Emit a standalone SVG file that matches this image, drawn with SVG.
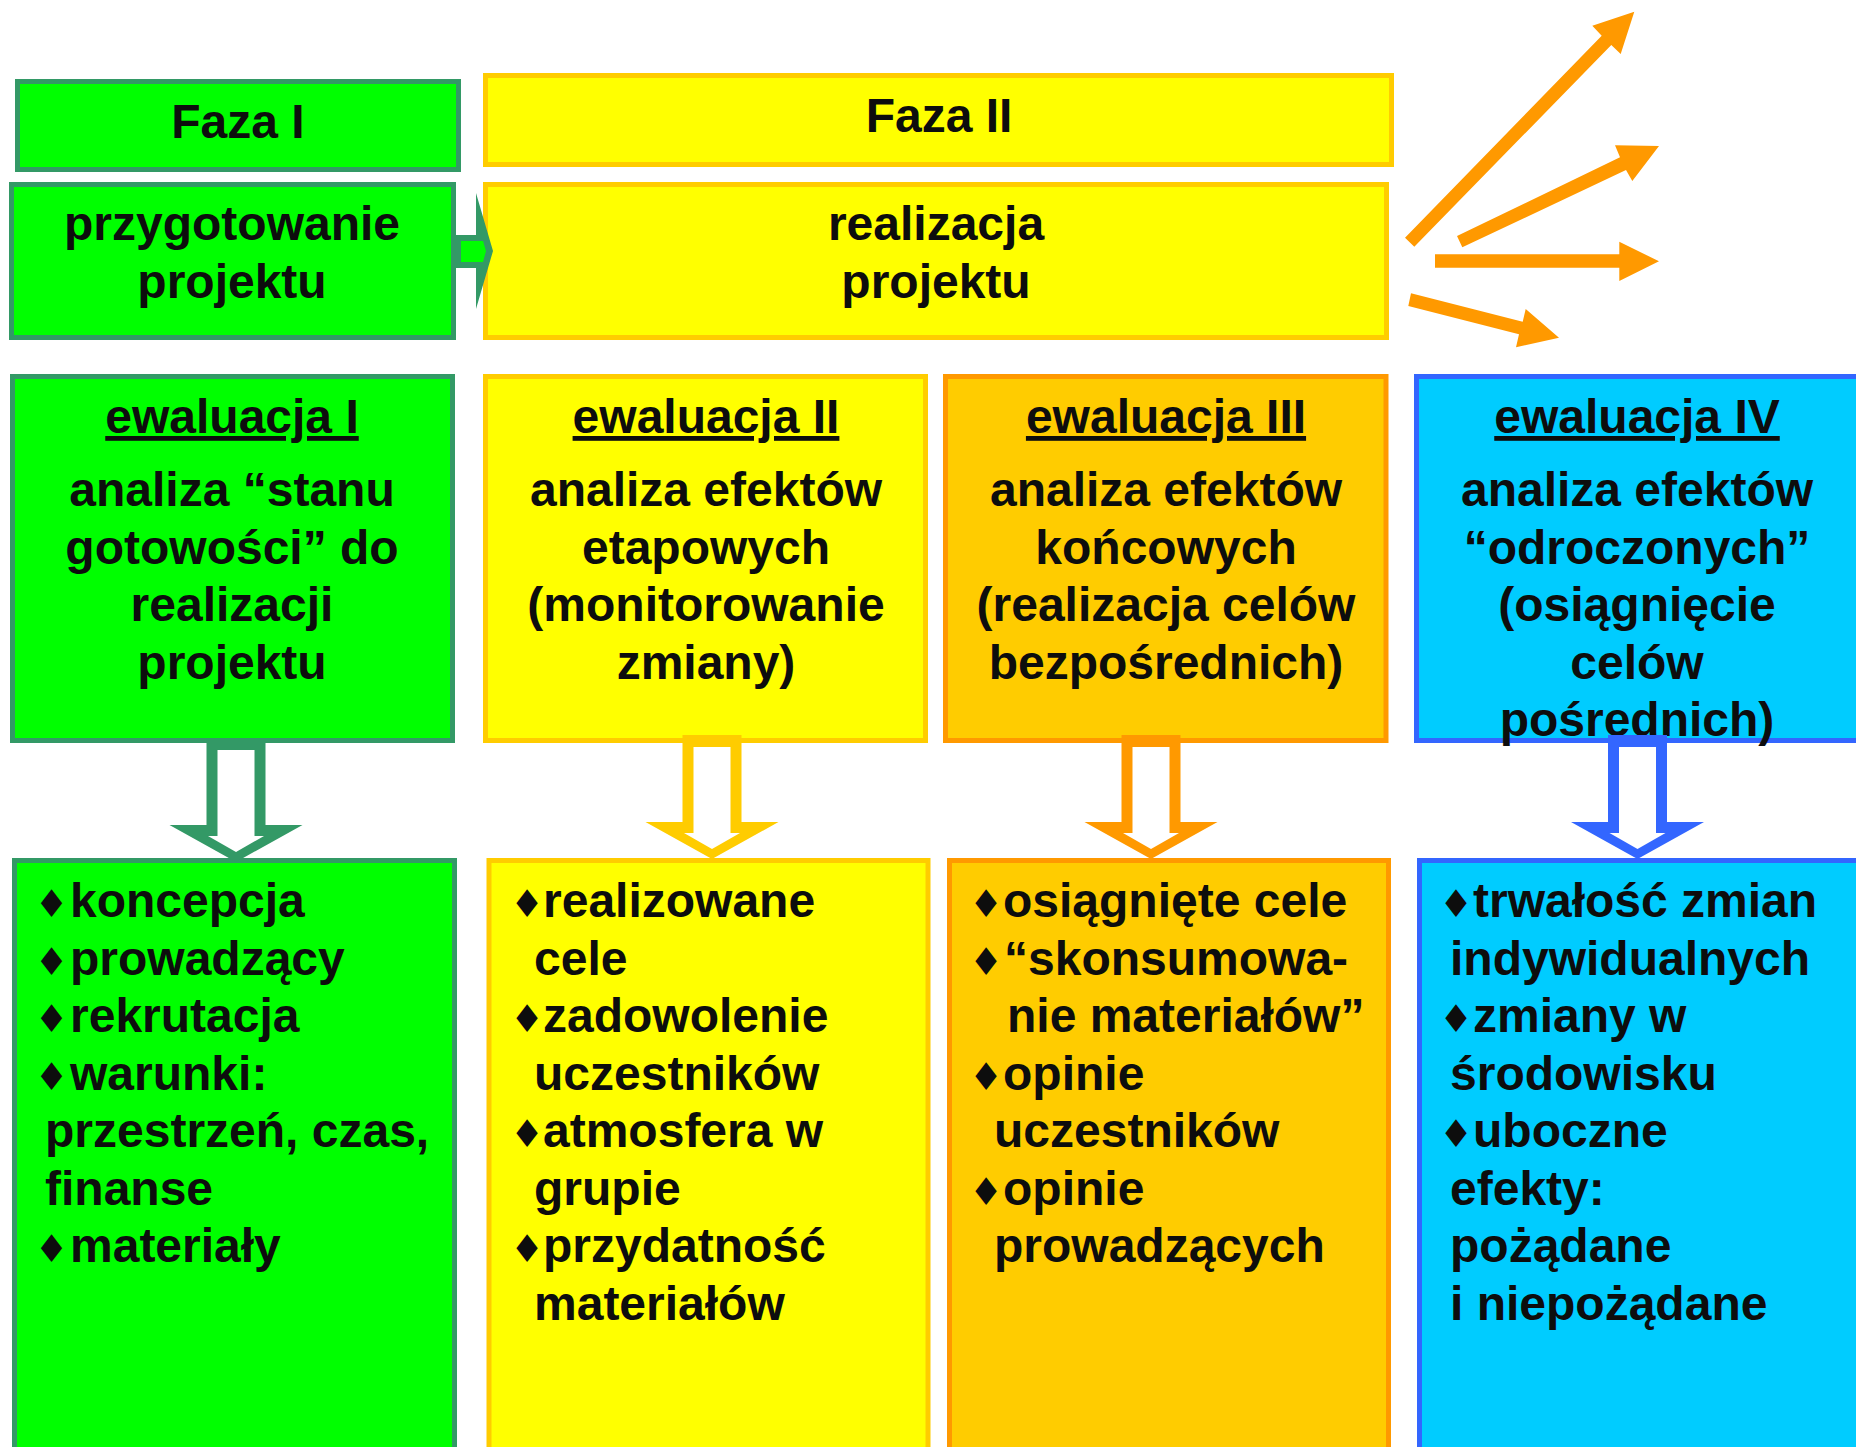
<svg xmlns="http://www.w3.org/2000/svg" xmlns:xlink="http://www.w3.org/1999/xlink" width="1856" height="1447" viewBox="0 0 1856 1447">
<style>
text{font-family:"Liberation Sans",Arial,sans-serif;font-weight:bold;font-size:48px;fill:#0d0d0d}
.c{text-anchor:middle}
.u{text-decoration:underline}
.b{font-family:"DejaVu Sans",sans-serif;font-size:38px;text-anchor:middle}
.g{fill:#00ff00;stroke:#339966;stroke-width:5}
.y{fill:#ffff00;stroke:#ffcc00;stroke-width:5}
.o{fill:#ffcc00;stroke:#ff9900;stroke-width:5}
.bl{fill:#00ccff;stroke:#3366ff;stroke-width:5}
.oa{fill:#ff9900}
</style>
<defs>
<g id="darrow">
<polygon fill="currentColor" points="-29.5,0 29.5,0 29.5,87 66.5,87 0,124 -66.5,87 -29.5,87"/>
<polygon fill="#ffffff" points="-18.5,12 18.5,12 18.5,98 28,98 0,114 -28,98 -18.5,98"/>
</g>
</defs>
<rect width="1856" height="1447" fill="#ffffff"/>

<g id="faza1">
<rect class="g" x="17.5" y="81.5" width="441" height="88"/>
<text class="c" x="238" y="138">Faza I</text>
</g>
<g id="przygotowanie">
<rect class="g" x="11.5" y="184.5" width="442" height="153"/>
<text class="c" x="232" y="240">przygotowanie</text>
<text class="c" x="232" y="298">projektu</text>
</g>
<g id="faza2">
<rect class="y" x="485.5" y="75.5" width="906" height="89"/>
<text class="c" x="939" y="132">Faza II</text>
</g>
<g id="realizacja">
<rect class="y" x="485.5" y="184.5" width="901" height="153"/>
<text class="c" x="936" y="240">realizacja</text>
<text class="c" x="936" y="298">projektu</text>
</g>

<g id="ewaluacja1">
<rect class="g" x="12.5" y="376.5" width="440" height="364"/>
<text class="c u" x="232" y="433">ewaluacja I</text>
<text class="c" x="232" y="506">analiza “stanu</text>
<text class="c" x="232" y="563.5">gotowości” do</text>
<text class="c" x="232" y="621">realizacji</text>
<text class="c" x="232" y="678.5">projektu</text>
</g>
<g id="ewaluacja2">
<rect class="y" x="485.5" y="376.5" width="440" height="364"/>
<text class="c u" x="706" y="433">ewaluacja II</text>
<text class="c" x="706" y="506">analiza efektów</text>
<text class="c" x="706" y="563.5">etapowych</text>
<text class="c" x="706" y="621">(monitorowanie</text>
<text class="c" x="706" y="678.5">zmiany)</text>
</g>
<g id="ewaluacja3">
<rect class="o" x="945.5" y="376.5" width="440.5" height="364"/>
<text class="c u" x="1166" y="433">ewaluacja III</text>
<text class="c" x="1166" y="506">analiza efektów</text>
<text class="c" x="1166" y="563.5">końcowych</text>
<text class="c" x="1166" y="621">(realizacja celów</text>
<text class="c" x="1166" y="678.5">bezpośrednich)</text>
</g>
<g id="ewaluacja4">
<rect class="bl" x="1416.5" y="376.5" width="443" height="364"/>
<text class="c u" x="1637" y="433">ewaluacja IV</text>
<text class="c" x="1637" y="506">analiza efektów</text>
<text class="c" x="1637" y="563.5">“odroczonych”</text>
<text class="c" x="1637" y="621">(osiągnięcie</text>
<text class="c" x="1637" y="678.5">celów</text>
<text class="c" x="1637" y="736">pośrednich)</text>
</g>

<g id="lista1">
<rect class="g" x="14.5" y="860.5" width="440" height="620"/>
<text class="b" x="51.5" y="917">♦</text><text x="70" y="917">koncepcja</text>
<text class="b" x="51.5" y="974.5">♦</text><text x="70" y="974.5">prowadzący</text>
<text class="b" x="51.5" y="1032">♦</text><text x="70" y="1032">rekrutacja</text>
<text class="b" x="51.5" y="1089.5">♦</text><text x="70" y="1089.5">warunki:</text>
<text x="45" y="1147">przestrzeń, czas,</text>
<text x="45" y="1204.5">finanse</text>
<text class="b" x="51.5" y="1262">♦</text><text x="70" y="1262">materiały</text>
</g>
<g id="lista2">
<rect class="y" x="489" y="860.5" width="439" height="620"/>
<text class="b" x="527" y="917">♦</text><text x="543" y="917">realizowane</text>
<text x="534" y="974.5">cele</text>
<text class="b" x="527" y="1032">♦</text><text x="543" y="1032">zadowolenie</text>
<text x="534" y="1089.5">uczestników</text>
<text class="b" x="527" y="1147">♦</text><text x="543" y="1147">atmosfera w</text>
<text x="534" y="1204.5">grupie</text>
<text class="b" x="527" y="1262">♦</text><text x="543" y="1262">przydatność</text>
<text x="534" y="1319.5">materiałów</text>
</g>
<g id="lista3">
<rect class="o" x="949.5" y="860.5" width="439" height="620"/>
<text class="b" x="986" y="917">♦</text><text x="1003" y="917">osiągnięte cele</text>
<text class="b" x="986" y="974.5">♦</text><text x="1004" y="974.5">“skonsumowa-</text>
<text x="1007" y="1032">nie materiałów”</text>
<text class="b" x="986" y="1089.5">♦</text><text x="1003" y="1089.5">opinie</text>
<text x="994" y="1147">uczestników</text>
<text class="b" x="986" y="1204.5">♦</text><text x="1003" y="1204.5">opinie</text>
<text x="994" y="1262">prowadzących</text>
</g>
<g id="lista4">
<rect class="bl" x="1419.5" y="860.5" width="443" height="620"/>
<text class="b" x="1456" y="917">♦</text><text x="1473" y="917">trwałość zmian</text>
<text x="1450" y="974.5">indywidualnych</text>
<text class="b" x="1456" y="1032">♦</text><text x="1473" y="1032">zmiany w</text>
<text x="1450" y="1089.5">środowisku</text>
<text class="b" x="1456" y="1147">♦</text><text x="1473" y="1147">uboczne</text>
<text x="1450" y="1204.5">efekty:</text>
<text x="1450" y="1262">pożądane</text>
<text x="1450" y="1319.5">i niepożądane</text>
</g>

<g id="connectors">
<g id="faza-arrow">
<polygon fill="#339966" points="455,235 476,235 476,193 493,251 476,309 476,268 455,268"/>
<polygon fill="#00ff00" points="461,241 483,241 486,251 483,262 461,262"/>
</g>
<use xlink:href="#darrow" href="#darrow" x="236" y="738" style="color:#339966"/>
<use xlink:href="#darrow" href="#darrow" x="712" y="735" style="color:#ffcc00"/>
<use xlink:href="#darrow" href="#darrow" x="1151" y="735" style="color:#ff9900"/>
<use xlink:href="#darrow" href="#darrow" x="1637.5" y="735" style="color:#3366ff"/>
<polygon class="oa" points="1405,237.7 1601.7,35.7 1592.3,25.7 1634.3,11.7 1620.7,54 1611.3,45 1414.3,246.7"/>
<polygon class="oa" points="1457,236 1620,157.3 1615,145.3 1659,146 1632.3,181 1626,170 1462.3,247.3"/>
<polygon class="oa" points="1435,254.3 1619.3,254.3 1619.3,241.7 1659,261.3 1619.3,281 1619.3,267.7 1435,267.7"/>
<polygon class="oa" points="1411,293.3 1522.7,321.7 1525.7,309 1559,337.7 1516,347.3 1519,334.3 1408.3,306"/>
</g>
</svg>
